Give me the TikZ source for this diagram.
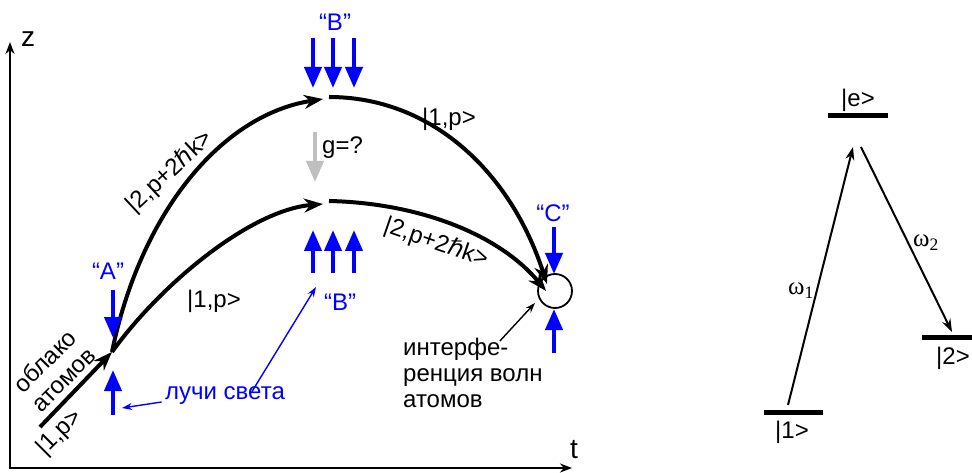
\documentclass[tikz,border=0pt]{standalone}
\usepackage{fontspec}
\setmainfont{Liberation Sans}
\newfontfamily\hbarfont{DejaVu Sans}
\newfontfamily\omegafont{Liberation Serif}
\usetikzlibrary{arrows.meta,calc}
\definecolor{BeamClr}{rgb}{0,0,1}
\definecolor{GravClr}{rgb}{0.75,0.75,0.75}
\newcommand{\hb}{{\hbarfont ℏ}}

\tikzset{
  wave/.style={line width=4pt,-{Stealth[length=19pt,width=14pt]}},
  beam/.style={BeamClr,line width=4pt,-{Triangle[length=21pt,width=17pt]}},
  pointer/.style={line width=1.4pt,-{Stealth[length=10pt,width=7pt]}},
  axis/.style={line width=2.5pt,{Stealth[length=12pt,width=9pt]}-{Stealth[length=12pt,width=9pt]}},
  level/.style={line width=5pt},
  trans/.style={line width=2pt,-{Stealth[length=13pt,width=9pt]}},
  beamlbl/.style={text=BeamClr},
  omlbl/.style={font=\omegafont\fontsize{25}{27}\selectfont}
}

\begin{document}
\begin{tikzpicture}[x=1pt,y=-1pt,font=\fontsize{24}{26}\selectfont]
\useasboundingbox (0,0) rectangle (972,473);

\coordinate (O) at (10,468);
\coordinate (zend) at (10,42);
\coordinate (tend) at (572,468);
\coordinate (S) at (40,427);
\coordinate (A) at (112,352);
\coordinate (B1) at (323,99);
\coordinate (B1r) at (329,97);
\coordinate (B2) at (323,204);
\coordinate (B2r) at (329,201);
\coordinate (C1) at (547,284);
\coordinate (C2) at (546,291);
\coordinate (rayA) at (122,408);
\coordinate (rayB) at (316,287);
\coordinate (spot) at (535,303);

\draw[axis] (zend) -- (O) -- (tend);
\node[font=\fontsize{28}{30}\selectfont] (zlbl) at (28,39) {z};
\node[font=\fontsize{28}{30}\selectfont] (tlbl) at (574,450) {t};

\draw[wave] (S) -- (A);
\draw[wave] (A) .. controls (140,215) and (220,115) .. (B1);
\draw[wave] (A) .. controls (160,285) and (250,210) .. (B2);
\draw[wave] (B1r) .. controls (430,97) and (510,170) .. (C1);
\draw[wave] (B2r) .. controls (420,203) and (500,235) .. (C2);
\node[draw,circle,line width=1.8pt,minimum size=34pt,inner sep=0pt] (C) at (555,291) {};

\draw[beam] (113,290) -- (113,338);
\draw[beam] (113,415) -- (113,370);
\draw[beam] (554,227) -- (554,274);
\draw[beam] (554,353) -- (554,309);
\foreach \x in {313,333,354}
  \draw[beam] (\x,38) -- (\x,88);
\foreach \x in {313,333,354}
  \draw[beam] (\x,273) -- (\x,230);
\draw[beam,GravClr] (315,132) -- (315,182);

\node[beamlbl] (lblA) at (108,271) {“A”};
\node[beamlbl] (lblB) at (335,22) {“B”};
\node[beamlbl] (lblBb) at (340,302) {“B”};
\node[beamlbl] (lblC) at (553,213) {“C”};
\node[anchor=west,inner sep=0pt] (grav) at (322,148) {g=?};

\node[beamlbl] (rays) at (225,396) {лучи света};
\draw[pointer,BeamClr] ([yshift=-6pt]rays.west) -- (rayA);
\draw[pointer,BeamClr] ([xshift=27pt,yshift=-8pt]rays.north) -- (rayB);

\node[align=left,anchor=north west,inner sep=0pt] (intf) at (403,338) {интерфе-\\ренция волн\\атомов};
\draw[pointer] ([xshift=27pt,yshift=-3pt]intf.north) -- (spot);

\node (st1) at (449,119) {|1,p>};
\node[rotate=43,inner sep=0pt] (st2) at (170,172) {|2,p+2\hb k>};
\node (st3) at (214,301) {|1,p>};
\node[rotate=-19,inner sep=0pt] (st4) at (436,243) {|2,p+2\hb k>};
\node[rotate=45,align=center,inner sep=0pt] (cloud) at (54,370) {облако\\атомов};
\node[rotate=45,inner sep=0pt] (st5) at (60,433) {|1,p>};

\coordinate (e1) at (828,116);
\coordinate (e2) at (888,116);
\coordinate (g1) at (764,412);
\coordinate (g2) at (823,412);
\coordinate (s1) at (922,337);
\coordinate (s2) at (972,337);
\draw[level] (e1) -- (e2);
\draw[level] (g1) -- (g2);
\draw[level] (s1) -- (s2);
\node (lvle) at (858,100) {|e>};
\node (lvlg) at (792,432) {|1>};
\node (lvls) at (953,358) {|2>};

\coordinate (up1) at (788,405);
\coordinate (up2) at (853,147);
\coordinate (dn1) at (861,147);
\coordinate (dn2) at (952,332);
\draw[trans] (up1) -- (up2);
\draw[trans] (dn1) -- (dn2);
\node[omlbl] (om1) at (801,291) {ω\textsubscript{1}};
\node[omlbl] (om2) at (926,243) {ω\textsubscript{2}};

\end{tikzpicture}
\end{document}
